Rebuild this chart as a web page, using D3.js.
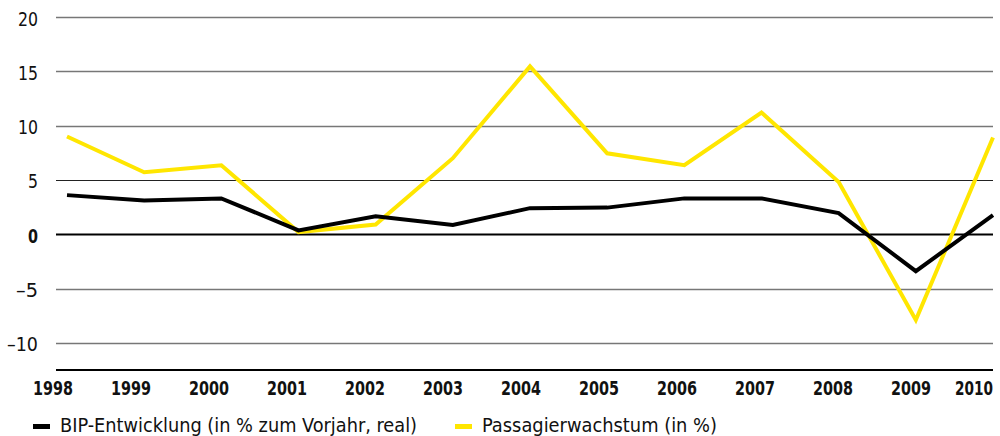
<!DOCTYPE html>
<html><head><meta charset="utf-8">
<script src="https://cdn.jsdelivr.net/npm/d3@7"></script>
<style>
body{margin:0;background:#fff;}
svg{display:block;}
text{font-family:"DejaVu Sans Condensed","DejaVu Sans",sans-serif;font-stretch:condensed;}
</style></head>
<body><svg id="c" width="1000" height="436"></svg>
<script>
const years = ["1998","1999","2000","2001","2002","2003","2004","2005","2006","2007","2008","2009","2010"];
const bip = [3.6,3.1,3.3,0.35,1.65,0.85,2.4,2.45,3.3,3.3,1.95,-3.4,1.75];
const passagiere = [9.0,5.7,6.35,0.2,0.9,7.0,15.45,7.45,6.35,11.2,4.8,-7.9,8.9];
const yTicks = [20,15,10,5,0,-5,-10];
const legendLabels = ["BIP-Entwicklung (in % zum Vorjahr, real)","Passagierwachstum (in %)"];
const colors = ["#000000","#FFE600"];

const svg = d3.select("#c");
const y = d3.scaleLinear().domain([-12.5,20]).range([370,17]);
const x = d3.scalePoint().domain(years).range([67,993]);
const xl = d3.scalePoint().domain(years).range([53,989]);

// gridlines
svg.append("g").selectAll("line").data(yTicks).join("line")
  .attr("x1",56).attr("x2",993)
  .attr("y1",d=>Math.round(y(d))+0.5).attr("y2",d=>Math.round(y(d))+0.5)
  .attr("stroke",d=>d===0?"#000":(d===5?"#222":"#777"))
  .attr("stroke-width",d=>d===0?2:(d===5?1.2:1.6));

// y labels
svg.append("g").selectAll("text").data(yTicks).join("text")
  .attr("x",38).attr("y",d=>y(d)+8.5)
  .attr("text-anchor","end")
  .attr("font-size",20).attr("fill","#111")
  .attr("font-weight",d=>d===0?"bold":"normal")
  .attr("textLength",d=>d===0?10:(Math.abs(d)>=10?(d<0?31:20):(d<0?22:10)))
  .attr("lengthAdjust","spacingAndGlyphs")
  .text(d=>d<0?"\u2013"+Math.abs(d):d);

// bottom axis line
svg.append("line").attr("x1",56).attr("x2",993)
  .attr("y1",y(-12.5)).attr("y2",y(-12.5))
  .attr("stroke","#000").attr("stroke-width",2.2);

// x labels (horizontally compressed to mimic condensed bold face)
const xlab = svg.append("g").selectAll("text").data(years).join("text")
  .attr("text-anchor","start")
  .attr("font-size",20).attr("font-weight","bold").attr("fill","#111")
  .text(d=>d);
xlab.each(function(d,i){
  const w = this.getComputedTextLength();
  const target = i===years.length-1?38:40;
  const sx = target / w;
  const left = i===years.length-1 ? 993-target : xl(d)-target/2;
  d3.select(this).attr("transform",`translate(${left},395) scale(${sx},1)`);
});

const line = d3.line().x((d,i)=>x(years[i])).y(d=>y(d));
svg.append("path").datum(passagiere).attr("d",line)
  .attr("fill","none").attr("stroke",colors[1]).attr("stroke-width",4).attr("stroke-linejoin","miter");
svg.append("path").datum(bip).attr("d",line)
  .attr("fill","none").attr("stroke",colors[0]).attr("stroke-width",4).attr("stroke-linejoin","miter");

// legend
const lx = [33,455];
const lw = [357,235];
const lg = svg.append("g").selectAll("g").data(legendLabels).join("g")
  .attr("transform",(d,i)=>`translate(${lx[i]},0)`);
lg.append("rect").attr("x",0).attr("y",424).attr("width",17).attr("height",5)
  .attr("fill",(d,i)=>colors[i]);
lg.append("text").attr("x",27).attr("y",432)
  .attr("font-size",20).attr("fill","#111")
  .attr("textLength",(d,i)=>lw[i]).attr("lengthAdjust","spacingAndGlyphs")
  .text(d=>d);
</script></body></html>
